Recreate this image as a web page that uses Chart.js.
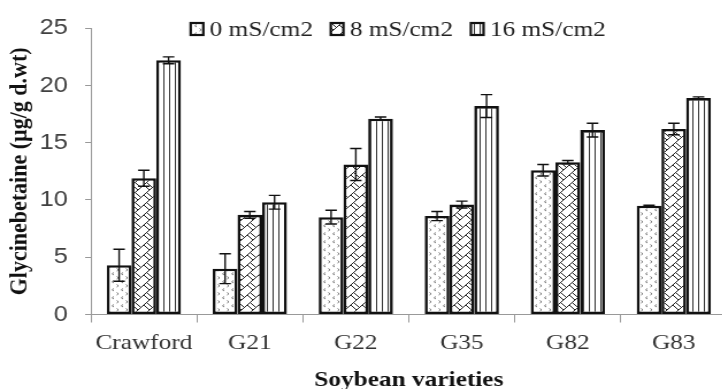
<!DOCTYPE html>
<html>
<head>
<meta charset="utf-8">
<script src="https://cdn.jsdelivr.net/npm/chart.js@4"></script>
<style>
html,body{margin:0;padding:0;background:#fff;overflow:hidden;}
#wrap{width:722px;height:389px;overflow:hidden;}
#c{display:block;transform:scaleX(1.15);transform-origin:0 0;}
</style>
</head>
<body>
<div id="wrap"><canvas id="c" width="632" height="389"></canvas></div>
<script>
const categories = ["Crawford", "G21", "G22", "G35", "G82", "G83"];
const seriesNames = ["0 mS/cm2", "8 mS/cm2", "16 mS/cm2"];
const zeroValues = [4.3, 4.0, 8.5, 8.6, 12.6, 9.5];
const eightValues = [11.9, 8.7, 13.1, 9.6, 13.3, 16.2];
const sixteenValues = [22.2, 9.8, 17.1, 18.2, 16.1, 18.9];
const zeroErrors = [1.4, 1.3, 0.6, 0.4, 0.5, 0.05];
const eightErrors = [0.7, 0.3, 1.4, 0.3, 0.15, 0.5];
const sixteenErrors = [0.3, 0.6, 0.15, 1.0, 0.6, 0.1];
const yTicks = [0, 5, 10, 15, 20, 25];

function makePattern(w, h, draw) {
  const c = document.createElement('canvas');
  c.width = w; c.height = h;
  const x = c.getContext('2d');
  x.fillStyle = '#fff';
  x.fillRect(0, 0, w, h);
  draw(x);
  return document.getElementById('c').getContext('2d').createPattern(c, 'repeat');
}
const dotsPattern = makePattern(8, 8, x => {
  x.strokeStyle = '#666'; x.lineWidth = 0.9;
  x.beginPath();
  x.moveTo(3, 0.5); x.lineTo(1.5, 1.8); x.lineTo(3, 3);
  x.moveTo(5.5, 4.5); x.lineTo(7, 5.8); x.lineTo(5.5, 7);
  x.stroke();
});
const brickPattern = makePattern(10, 10, x => {
  x.strokeStyle = '#222'; x.lineWidth = 1;
  x.beginPath();
  x.moveTo(-1, 11); x.lineTo(11, -1);
  x.moveTo(-1, 1); x.lineTo(1, -1);
  x.moveTo(9, 11); x.lineTo(11, 9);
  x.moveTo(5, 5); x.lineTo(10, 10);
  x.moveTo(-2.5, 2.5); x.lineTo(2.5, 7.5);
  x.moveTo(7.5, 2.5); x.lineTo(12.5, 7.5);
  x.moveTo(-5, -5); x.lineTo(0, 0);
  x.stroke();
});
const stripePattern = makePattern(5, 5, x => {
  x.fillStyle = '#333';
  x.fillRect(2, 0, 1, 5);
});

const ctx = document.getElementById('c').getContext('2d');
const fills = [dotsPattern, brickPattern, stripePattern];
const values = [zeroValues, eightValues, sixteenValues];
const errors = [zeroErrors, eightErrors, sixteenErrors];

const errorBarPlugin = {
  id: 'errorBars',
  afterDatasetsDraw(chart) {
    const c = chart.ctx;
    const y = chart.scales.y;
    c.save();
    c.strokeStyle = '#111';
    c.lineWidth = 1.4;
    chart.data.datasets.forEach((ds, i) => {
      const meta = chart.getDatasetMeta(i);
      meta.data.forEach((bar, j) => {
        const v = ds.data[j], e = ds.errors[j];
        const top = y.getPixelForValue(v + e), bot = y.getPixelForValue(v - e);
        const half = 5;
        c.beginPath();
        c.moveTo(bar.x, top); c.lineTo(bar.x, bot);
        c.moveTo(bar.x - half, top); c.lineTo(bar.x + half, top);
        c.moveTo(bar.x - half, bot); c.lineTo(bar.x + half, bot);
        c.stroke();
      });
    });
    c.restore();
  }
};

const legendPlugin = {
  id: 'customLegend',
  afterDraw(chart) {
    const c = chart.ctx;
    c.save();
    c.font = '22px "Liberation Serif"';
    c.textBaseline = 'middle';
    c.textAlign = 'left';
    let x = 165.8;
    const yc = 29;
    chart.data.datasets.forEach((ds, i) => {
      c.fillStyle = ds.backgroundColor;
      c.fillRect(x, yc - 6, 11, 12);
      c.strokeStyle = '#111';
      c.lineWidth = 2.2;
      c.strokeRect(x, yc - 6, 11, 12);
      c.fillStyle = '#222';
      c.fillText(ds.label, x + 16.5, yc + 1);
      x += 16.5 + c.measureText(ds.label).width + 15.5;
    });
    c.restore();
  }
};

new Chart(ctx, {
  type: 'bar',
  data: {
    labels: categories,
    datasets: seriesNames.map((name, i) => ({
      label: name,
      data: values[i],
      errors: errors[i],
      backgroundColor: fills[i],
      borderColor: '#111',
      borderWidth: 2.6,
      borderSkipped: false,
      categoryPercentage: 0.70,
      barPercentage: 1.0
    }))
  },
  options: {
    responsive: false,
    animation: false,
    devicePixelRatio: 1,
    layout: { padding: { top: 24, left: 0, right: 0, bottom: 0 } },
    plugins: { legend: { display: false }, tooltip: { enabled: false } },
    scales: {
      x: {
        grid: { display: true, drawOnChartArea: false, drawTicks: true, tickLength: 8, color: '#999', offset: true },
        border: { display: true, color: '#999', width: 1 },
        ticks: { color: '#333', font: { family: 'Liberation Serif', size: 22 }, padding: 8, maxRotation: 0 },
        title: { display: true, text: 'Soybean varieties', color: '#111', font: { family: 'Liberation Serif', size: 22, weight: 'bold', lineHeight: 0.8 }, padding: { top: 0, bottom: 0 } },
        afterFit(s) { s.height = 74.5; }
      },
      y: {
        min: 0, max: 25,
        afterBuildTicks(s) { s.ticks = yTicks.map(v => ({ value: v })); },
        grid: { display: true, drawOnChartArea: false, drawTicks: true, tickLength: 5, color: '#999' },
        border: { display: true, color: '#999', width: 1 },
        ticks: { color: '#404040', font: { family: 'Liberation Sans', size: 22 }, padding: 15 },
        title: { display: true, text: 'Glycinebetaine (µg/g d.wt)', color: '#111', font: { family: 'Liberation Serif', size: 22, weight: 'bold' }, padding: { top: 4, bottom: 0 } },
        afterFit(s) { s.width = 79; }
      }
    }
  },
  plugins: [errorBarPlugin, legendPlugin]
});
</script>
</body>
</html>
